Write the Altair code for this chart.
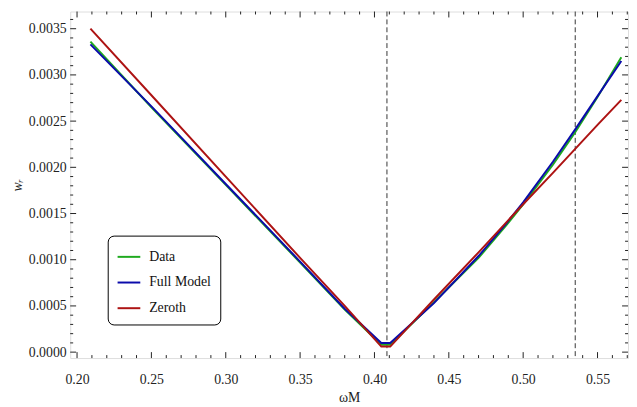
import altair as alt
import pandas as pd

# ---- data ----
omega = [0.209, 0.25, 0.30, 0.35, 0.38, 0.4046, 0.4106, 0.44, 0.47, 0.489, 0.50, 0.52, 0.535, 0.55, 0.566]
data_vals = [0.00336, 0.00265, 0.00181, 0.00097, 0.00046, 0.00008, 0.00008, 0.00054, 0.00102, 0.00138, 0.00160, 0.00203, 0.00238, 0.00276, 0.00319]
full_vals = [0.00333, 0.00266, 0.00182, 0.00098, 0.00047, 0.00010, 0.00010, 0.00053, 0.00104, 0.00140, 0.00162, 0.00206, 0.00241, 0.00277, 0.00315]
zero_vals = [0.00350, 0.00278, 0.00190, 0.00102, 0.00050, 0.00006, 0.00006, 0.00057, 0.00108, 0.00141, 0.00160, 0.00194, 0.00220, 0.00246, 0.00273]
series_names = ["Data", "Full Model", "Zeroth"]
series_colors = ["#1faa1f", "#0b0bab", "#ad1313"]

vlines = [0.4084, 0.535]

x_major = [0.20, 0.25, 0.30, 0.35, 0.40, 0.45, 0.50, 0.55]
x_minor = [0.21, 0.22, 0.23, 0.24, 0.26, 0.27, 0.28, 0.29, 0.31, 0.32, 0.33, 0.34,
           0.36, 0.37, 0.38, 0.39, 0.41, 0.42, 0.43, 0.44, 0.46, 0.47, 0.48, 0.49,
           0.51, 0.52, 0.53, 0.54, 0.56, 0.57]
y_major = [0.0, 0.0005, 0.0010, 0.0015, 0.0020, 0.0025, 0.0030, 0.0035]
y_minor = [0.0001, 0.0002, 0.0003, 0.0004, 0.0006, 0.0007, 0.0008, 0.0009,
           0.0011, 0.0012, 0.0013, 0.0014, 0.0016, 0.0017, 0.0018, 0.0019,
           0.0021, 0.0022, 0.0023, 0.0024, 0.0026, 0.0027, 0.0028, 0.0029,
           0.0031, 0.0032, 0.0033, 0.0034, 0.0036]

x_domain = [0.1954, 0.5705]
y_domain = [-0.000064, 0.003686]

W, H = 565, 351
FONT = "Liberation Serif"

rows = []
for name, vals in zip(series_names, [data_vals, full_vals, zero_vals]):
    for i, (xv, yv) in enumerate(zip(omega, vals)):
        rows.append({"omega": xv, "w": yv, "series": name, "order": i})
df = pd.DataFrame(rows)

xs = alt.Scale(domain=x_domain, nice=False, zero=False)
ys = alt.Scale(domain=y_domain, nice=False, zero=False)

base_axes = alt.Chart(pd.DataFrame({"omega": [x_domain[0]], "w": [y_domain[0]]})).mark_point(opacity=0).encode(
    x=alt.X("omega:Q", scale=xs,
            axis=alt.Axis(title="ωM", values=x_major, format=".2f", tickSize=0,
                          labelPadding=15, titlePadding=4, domain=False, grid=False,
                          labelFont=FONT, labelFontSize=14, labelColor="#222",
                          titleFont=FONT, titleFontSize=14, titleFontWeight="normal", titleColor="#222")),
    y=alt.Y("w:Q", scale=ys,
            axis=alt.Axis(title="wᵣ", values=y_major, format=".4f", tickSize=0,
                          labelPadding=4, titlePadding=4, domain=False, grid=False,
                          labelFont=FONT, labelFontSize=14, labelColor="#222",
                          titleFont=FONT, titleFontSize=14, titleFontStyle="italic",
                          titleFontWeight="normal", titleColor="#222")),
)

lines = alt.Chart(df).mark_line(strokeWidth=2).encode(
    x=alt.X("omega:Q", scale=xs),
    y=alt.Y("w:Q", scale=ys),
    color=alt.Color("series:N",
                    scale=alt.Scale(domain=series_names, range=series_colors),
                    legend=alt.Legend(title=None, orient="none", legendX=38, legendY=227,
                                      fillColor="white", strokeColor="black", cornerRadius=6,
                                      padding=9, rowPadding=6, symbolType="stroke",
                                      symbolSize=529, symbolStrokeWidth=2, labelOffset=8,
                                      labelFont=FONT, labelFontSize=14, labelColor="#111")),
    order="order:Q",
)

vl = alt.Chart(pd.DataFrame({"omega": vlines})).mark_rule(
    color="#333", strokeWidth=1, strokeDash=[5, 3]).encode(x=alt.X("omega:Q", scale=xs))


def xticks(vals, length):
    d = pd.DataFrame({"omega": vals})
    b = alt.Chart(d).mark_rule(color="#222", strokeWidth=1).encode(
        x=alt.X("omega:Q", scale=xs), y=alt.value(H), y2=alt.value(H - length))
    t = alt.Chart(d).mark_rule(color="#222", strokeWidth=1).encode(
        x=alt.X("omega:Q", scale=xs), y=alt.value(0), y2=alt.value(length))
    return [b, t]


def yticks(vals, length):
    d = pd.DataFrame({"w": vals})
    l = alt.Chart(d).mark_rule(color="#222", strokeWidth=1).encode(
        y=alt.Y("w:Q", scale=ys), x=alt.value(0), x2=alt.value(length))
    r = alt.Chart(d).mark_rule(color="#222", strokeWidth=1).encode(
        y=alt.Y("w:Q", scale=ys), x=alt.value(W), x2=alt.value(W - length))
    return [l, r]


tick_layers = xticks(x_major, 6) + xticks(x_minor, 3) + yticks(y_major, 6) + yticks(y_minor, 3)

chart = alt.layer(base_axes, *tick_layers, vl, lines).properties(
    width=W, height=H,
    autosize=alt.AutoSizeParams(type="none"),
    padding={"left": 63, "top": 1, "right": 1, "bottom": 46},
).configure_view(stroke="#222", strokeWidth=1).configure(background="white")

chart.save("out.html", embed_options={"renderer": "svg", "actions": False})
